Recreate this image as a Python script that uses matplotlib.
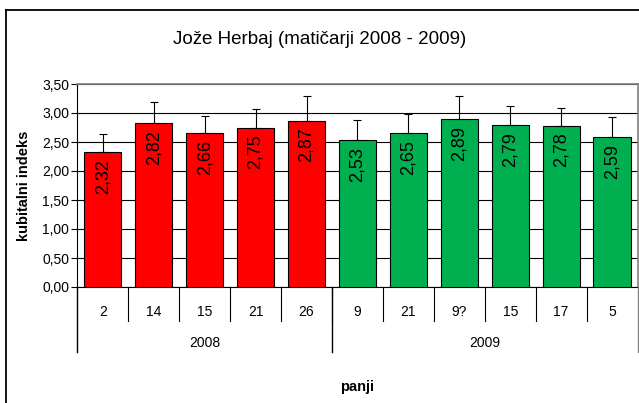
import matplotlib
matplotlib.use("Agg")
import matplotlib.pyplot as plt
from matplotlib.lines import Line2D

plt.rcParams['font.family'] = ['Liberation Sans', 'DejaVu Sans']

title = "Jože Herbaj (matičarji 2008 - 2009)"
hives = ["2", "14", "15", "21", "26", "9", "21", "9?", "15", "17", "5"]
years = ["2008", "2009"]
year_counts = [5, 6]
values = [2.32, 2.82, 2.66, 2.75, 2.87, 2.53, 2.65, 2.89, 2.79, 2.78, 2.59]
errors = [0.31, 0.37, 0.29, 0.32, 0.42, 0.35, 0.33, 0.40, 0.33, 0.31, 0.34]
year_colors = ["#FF0000", "#00B050"]
yticks = [0, 0.5, 1.0, 1.5, 2.0, 2.5, 3.0, 3.5]

W, H = 639, 403
fig = plt.figure(figsize=(W / 100, H / 100), dpi=100)

x0, x1 = 77.4, 637.5
y0, y1 = 287.0, 84.0
ax = fig.add_axes([x0 / W, 1 - y0 / H, (x1 - x0) / W, (y0 - y1) / H])

colors = []
for c, n in zip(year_colors, year_counts):
    colors += [c] * n

n = len(values)
xs = list(range(n))
ax.bar(xs, values, width=0.73, color=colors, edgecolor="black", linewidth=0.8, zorder=3)
lower = [0] * n
ax.errorbar(xs, values, yerr=[lower, errors], fmt="none", ecolor="black",
            elinewidth=0.8, capsize=3, capthick=0.8, zorder=4)

for x, v in zip(xs, values):
    ax.annotate(f"{v:.2f}".replace(".", ","), (x, v), xytext=(0, -5),
                textcoords="offset points", rotation=90, ha="center", va="top",
                fontsize=13, color="black", zorder=5)

ax.set_xlim(-0.5, n - 0.5)
ax.set_ylim(0, 3.5)
ax.set_yticks(yticks)
ax.set_yticklabels([f"{t:.2f}".replace(".", ",") for t in yticks], fontsize=10)
ax.yaxis.grid(True, color="black", linewidth=0.8, zorder=0)
ax.set_axisbelow(True)
ax.tick_params(axis="y", length=4, width=0.8, pad=2)
ax.set_xticks([])
for s in ["top", "right"]:
    ax.spines[s].set_color("#808080")
    ax.spines[s].set_linewidth(1.2)
ax.spines["left"].set_linewidth(0.8)
ax.spines["bottom"].set_linewidth(0.8)

ax.set_ylabel("kubitalni indeks", fontsize=10.5, fontweight="bold", labelpad=8)

def py(p):
    return 1 - p / H

cw = (x1 - x0) / n
for i, lab in enumerate(hives):
    fig.text((x0 + (i + 0.5) * cw) / W, py(312), lab, ha="center", va="center", fontsize=10)

for i in range(1, n):
    xp = (x0 + i * cw) / W
    fig.add_artist(Line2D([xp, xp], [py(287), py(321)], color="black", linewidth=0.8))

start = 0
bounds = [0]
for cnt in year_counts:
    start += cnt
    bounds.append(start)
for b in bounds:
    xp = (x0 + b * cw) / W
    col = "#808080" if b == n else "black"
    fig.add_artist(Line2D([xp, xp], [py(287), py(352)], color=col, linewidth=1.0))
for k, yl in enumerate(years):
    mid = (bounds[k] + bounds[k + 1]) / 2
    fig.text((x0 + mid * cw) / W, py(343), yl, ha="center", va="center", fontsize=10)

fig.text(357 / W, py(387), "panji", ha="center", va="center", fontsize=10.5, fontweight="bold")
fig.text(320 / W, py(40), title, ha="center", va="center", fontsize=13.5)

fig.add_artist(Line2D([6 / W, 6 / W], [0, py(9.5)], color="black", linewidth=1.3))
fig.add_artist(Line2D([6 / W, 1], [py(9.5), py(9.5)], color="black", linewidth=1.3))

fig.savefig("out.png", dpi=100)
